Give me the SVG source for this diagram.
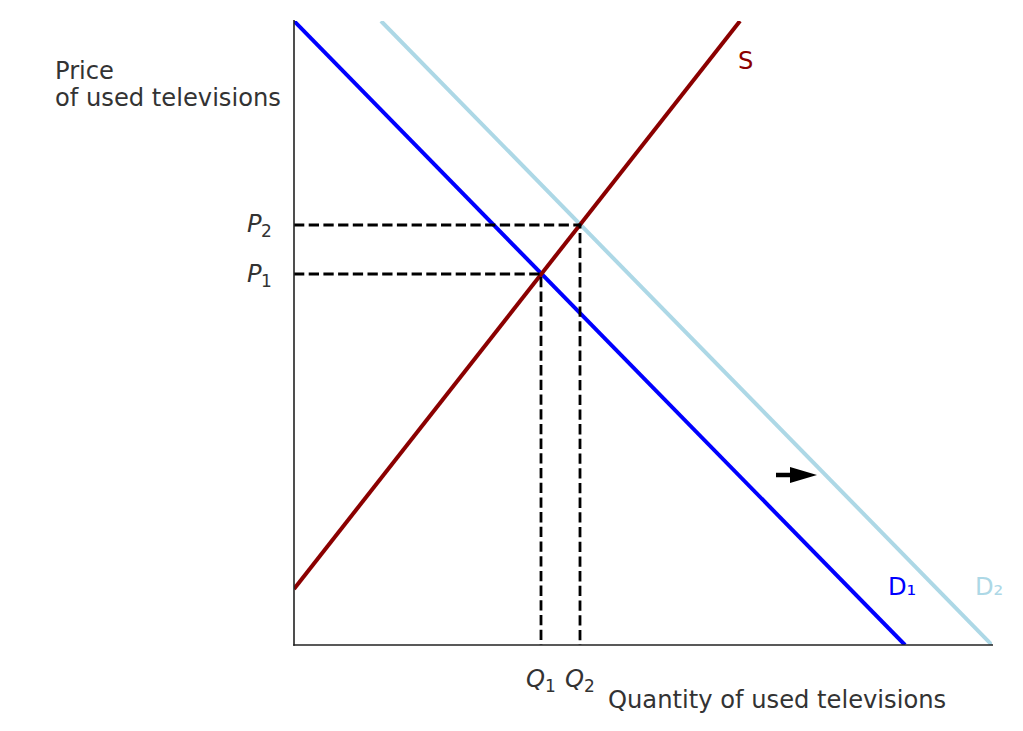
<svg xmlns="http://www.w3.org/2000/svg" width="1023" height="731" viewBox="0 0 1023 731">
<defs>
<style>
text{font-family:"DejaVu Sans","Liberation Sans",sans-serif;font-size:24.2px;fill:#333333}
.it{font-style:italic}
.sub{font-size:17px}
.curve{fill:none;stroke-width:4}
.dash{fill:none;stroke:#000;stroke-width:2.8;stroke-dasharray:10.3 4.4}
</style>
<clipPath id="plot"><rect x="294" y="21" width="698" height="624"/></clipPath>
</defs>
<rect width="1023" height="731" fill="#fff"/>
<g id="connectors">
<g clip-path="url(#plot)">
<line class="curve" x1="381" y1="21" x2="992" y2="645" stroke="#add8e6"/>
<line class="curve" x1="294" y1="21" x2="905" y2="645" stroke="#0000ff"/>
<line class="curve" x1="294" y1="589" x2="740" y2="21" stroke="#8b0000"/>
</g>
<polyline class="dash" points="294,225 580,225 580,645"/>
<polyline class="dash" points="294,274 541,274 541,645"/>
<line x1="776" y1="475" x2="792" y2="475" stroke="#000" stroke-width="4.5"/>
<path d="M790,467 L817,475 L790,483 z" fill="#000"/>
</g>
<g id="axes">
<line x1="294" y1="20" x2="294" y2="645.8" stroke="#222" stroke-width="1.6"/>
<line x1="293.2" y1="645" x2="993" y2="645" stroke="#222" stroke-width="1.6"/>
</g>
<g id="labels">
<text x="55" y="79">Price</text>
<text x="55" y="106">of used televisions</text>
<text x="608" y="708">Quantity of used televisions</text>
<text x="247" y="232" class="it">P</text><text x="261" y="237" class="sub">2</text>
<text x="247" y="282" class="it">P</text><text x="261" y="287" class="sub">1</text>
<text x="526" y="687" class="it">Q</text><text x="545" y="692" class="sub">1</text>
<text x="565" y="687" class="it">Q</text><text x="584" y="692" class="sub">2</text>
<text x="738" y="69" style="fill:#8b0000">S</text>
<text x="888" y="595" style="fill:#0000ff">D₁</text>
<text x="975" y="595" style="fill:#add8e6">D₂</text>
</g>
</svg>
